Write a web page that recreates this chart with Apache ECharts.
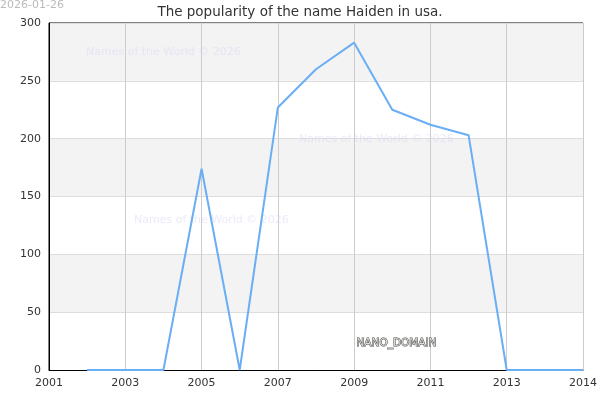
<!DOCTYPE html>
<html>
<head>
<meta charset="utf-8">
<script src="https://cdn.jsdelivr.net/npm/echarts@6/dist/echarts.min.js"></script>
<style>
  html, body { margin: 0; padding: 0; background: #fff; }
  #chart { width: 600px; height: 400px; }
</style>
</head>
<body>
<div id="chart"></div>
<script>
// 数据
const years = [2002, 2003, 2004, 2005, 2006, 2007, 2008, 2009, 2010, 2011, 2012, 2013, 2014, 2015];
const counts = [0, 0, 0, 174, 0, 227, 260, 283, 225, 212, 203, 0, 0, 0];
const firstYear = 2001;
const lastYear = 2015;
// 横轴刻度标签（最后一个标在右端）
const xTickLabels = ['2001', '2003', '2005', '2007', '2009', '2011', '2013', '2014'];
const yTicks = [0, 50, 100, 150, 200, 250, 300];

const chart = echarts.init(document.getElementById('chart'));

// 水印文字
const mark = (x, y) => ({
  type: 'text',
  left: x,
  top: y,
  style: {
    text: 'Names of the World © 2026',
    fill: 'rgba(215, 215, 245, 0.5)',
    font: '11px "DejaVu Sans"'
  },
  z: 1
});

chart.setOption({
  animation: false,
  title: {
    text: 'The popularity of the name Haiden in usa.',
    left: 'center',
    top: 0,
    textStyle: { fontSize: 13.5, fontWeight: 'normal', color: '#333', fontFamily: 'DejaVu Sans' }
  },
  grid: {
    left: 49, right: 15, top: 23, bottom: 30,
    show: true, borderColor: '#000', borderWidth: 1
  },
  xAxis: {
    type: 'value',
    min: 0,
    max: lastYear - firstYear,
    interval: 2,
    axisLine: { lineStyle: { color: '#000' } },
    axisTick: { show: false },
    axisLabel: {
      color: '#333', fontSize: 11, fontFamily: 'DejaVu Sans',
      formatter: v => xTickLabels[Math.ceil(v / 2)]
    },
    splitLine: { show: true, lineStyle: { color: '#ccc' } }
  },
  yAxis: {
    type: 'value',
    min: yTicks[0],
    max: yTicks[yTicks.length - 1],
    interval: 50,
    axisLine: { show: true, lineStyle: { color: '#000' } },
    axisTick: { show: false },
    axisLabel: { color: '#333', fontSize: 11, fontFamily: 'DejaVu Sans' },
    splitLine: { lineStyle: { color: '#ddd' } },
    splitArea: { show: true, areaStyle: { color: ['#fff', '#f3f3f3'] } }
  },
  series: [{
    type: 'line',
    data: years.map((y, i) => [y - firstYear, counts[i]]),
    showSymbol: false,
    lineStyle: { color: '#6aaef5', width: 2 },
    z: 3
  }],
  graphic: [
    {
      type: 'text', left: 0, top: 0,
      style: { text: '2026-01-26', fill: '#bbb', font: '11px "DejaVu Sans"' }
    },
    mark(86, 47),
    mark(299, 134),
    mark(134, 215),
    {
      type: 'text', left: 356, top: 337,
      style: {
        text: 'NANO_DOMAIN', fill: '#ddd', stroke: '#444840', lineWidth: 1,
        font: '10.5px "DejaVu Sans"'
      },
      z: 5
    }
  ]
});
</script>
</body>
</html>
